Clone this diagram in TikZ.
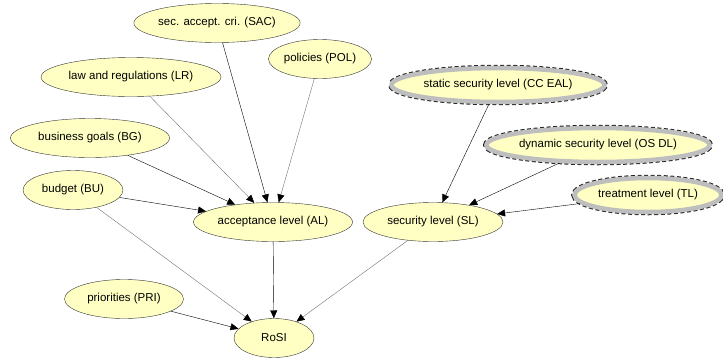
\documentclass[tikz,border=0pt]{standalone}
\usepackage{fontspec}
\setmainfont{Liberation Sans}
\usetikzlibrary{shapes.geometric,arrows.meta}

\definecolor{nodefill}{RGB}{255,255,196}
\definecolor{obsgray}{RGB}{190,190,190}

\tikzset{
  var/.style={ellipse, draw=black!80, fill=nodefill, inner sep=0pt,
    minimum height=39pt, font=\fontsize{11.5pt}{13pt}\selectfont},
  obs/.style={var, draw=obsgray, line width=4.5pt,
    preaction={draw=black!85, dash pattern=on 4pt off 2.5pt, line width=6.5pt}},
  dep/.style={-{Triangle[length=8pt,width=7pt,black]}, draw=black},
  weak/.style={dep, draw=black!55}
}

\begin{document}
\begin{tikzpicture}[x=1pt,y=-1pt]
		\useasboundingbox (0,0) rectangle (723,362);

		\draw (217,23) node [var, minimum width=159pt] (sac) {sec. accept. cri. (SAC)};
		\draw (320,59) node [var, minimum width=103pt] (pol) {policies (POL)};
		\draw (131,77) node [var, minimum width=180pt] (lr) {law and regulations (LR)};
		\draw (90,138) node [var, minimum width=159pt] (bg) {business goals (BG)};
		\draw (73,190) node [var, minimum width=100pt] (bu) {budget (BU)};
		\draw (273,222) node [var, minimum width=159pt] (al) {acceptance level (AL)};
		\draw (124,299) node [var, minimum width=119pt] (pri) {priorities (PRI)};
		\draw (274,338) node [var, minimum width=80pt] (rosi) {RoSI};
		\draw (433,222) node [var, minimum width=140pt] (sl) {security level (SL)};
		\draw (498,85) node [obs, minimum width=213pt, minimum height=34pt] (cc) {static security level (CC EAL)};
		\draw (598,145) node [obs, minimum width=223pt, minimum height=34pt] (os) {dynamic security level (OS DL)};
		\draw (648,195) node [obs, minimum width=147pt, minimum height=34pt] (tl) {treatment level (TL)};

		\draw
		    (sac) edge [dep] (al)
			(pol) edge [weak] (al)
			(lr) edge [weak] (al)
			(bg) edge [dep] (al)
			(bu) edge [dep] (al)
			(bu) edge [weak] (rosi)
			(al) edge [dep] (rosi)
			(pri) edge [dep] (rosi)
			(sl) edge [weak] (rosi)
			(cc) edge [dep] (sl)
			(os) edge [dep] (sl)
			(tl) edge [dep] (sl)
		;
	\end{tikzpicture}
\end{document}
